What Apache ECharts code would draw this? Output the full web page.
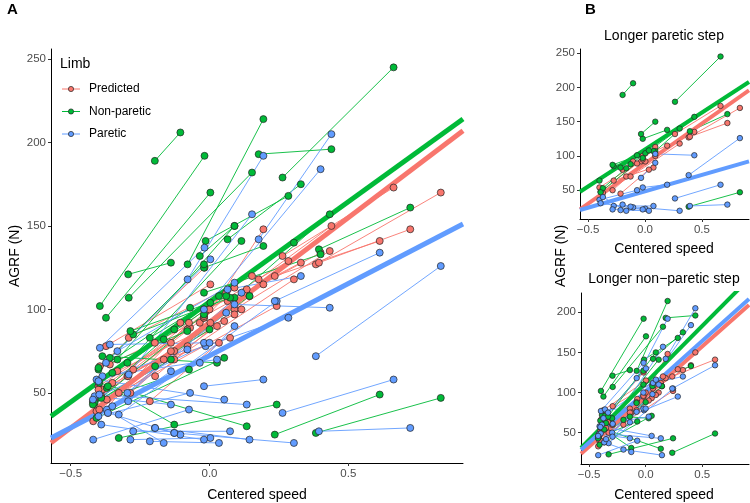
<!DOCTYPE html>
<html>
<head>
<meta charset="utf-8">
<script src="https://cdn.jsdelivr.net/npm/echarts@6/dist/echarts.min.js"></script>
<style>
  html, body { margin: 0; background: #fff; }
  #chart { width: 750px; height: 503px; }
</style>
</head>
<body>
<div id="chart"></div>
<script>
// one entry per subject: P = longer paretic step, N = longer non-paretic step
const stepGroup = ['P','P','P','P','P','P','P','P','P','P','P','P','P','P',
  'N','N','N','N','N','N','N','N','N','N','N','N','N','N','N','N','N','N','N','N','N','N','N','N'];
const speedLo = [-0.197, 0.263, 0.383, 0.394, 0.090, -0.020, -0.035, -0.275, -0.400, -0.370, -0.285, -0.215, -0.127, -0.390,
  -0.079, -0.395, -0.373, 0.177, 0.065, -0.014, -0.327, -0.419, -0.407, 0.235, -0.386, -0.359, -0.296, -0.332, -0.414, -0.397, -0.366, -0.196, -0.293, -0.291, -0.020, -0.420, -0.400, -0.350];
const speedHi = [-0.105, 0.663, 0.833, 0.723, 0.433, 0.194, 0.090, 0.074, -0.070, -0.165, 0.003, 0.034, 0.304, -0.020,
  0.194, -0.018, 0.003, 0.439, 0.329, 0.284, 0.242, -0.074, 0.053, 0.613, 0.027, -0.020, 0.115, 0.090, -0.139, 0.134, -0.127, 0.144, -0.139, 0.153, 0.400, 0.000, -0.080, 0.060];
const predLo = [80, 132, 127, 128, 100, 100, 92, 64, 54, 46, 50, 45, 70, 48,
  78, 66, 78, 118, 105, 99, 50, 33, 39, 120, 52, 67, 60, 63, 45, 40, 38, 60, 60, 83, 96, 45, 52, 56];
const predHi = [92, 173, 170, 148, 135, 115, 113, 83, 89, 70, 92, 80, 118, 95,
  148, 125, 115, 150, 128, 129, 102, 92, 93, 141, 90, 95, 100, 97, 80, 112, 75, 108, 75, 120, 134, 100, 88, 110];
const nonpLo = [189, 179, 26, 136, 107, 125, 132, 85, 64, 53, 87, 83, 88, 47,
  127, 102, 95, 193, 142, 141, 23, 44, 35, 25, 72, 71, 68, 70, 44, 56, 54, 66, 121, 107, 110, 43, 65, 62];
const nonpHi = [206, 245, 47, 161, 157, 138, 150, 107, 101, 82, 104, 108, 140, 97,
  214, 192, 170, 196, 175, 168, 43, 64, 71, 49, 68, 127, 141, 150, 70, 30, 31, 108, 128, 182, 133, 88, 87, 108];
const parLo = [29, 38, 72, 27, 103, 54, 68, 27, 36, 40, 22, 21, 26, 31,
  118, 77, 68, 142, 112, 78, 37, 22, 58, 105, 60, 79, 50, 75, 48, 49, 38, 29, 45, 61, 100, 46, 57, 42];
const parHi = [25, 58, 126, 29, 101, 58, 90, 27, 50, 20, 23, 20, 20, 22,
  192, 137, 130, 205, 120, 95, 105, 40, 46, 134, 70, 80, 110, 116, 43, 43, 26, 22, 63, 157, 184, 80, 76, 98];

// fitted lines, order: Predicted, Non-paretic, Paretic
const fitInterceptA = [92, 104.5, 72.3];
const fitSlopeA = [126, 120, 86.4];
const fitInterceptP = [88.9, 109.4, 48.4];
const fitSlopeP = [117, 108, 47.8];
const fitInterceptN = [95, 112, 101];
const fitSlopeN = [125, 142, 126.7];

const xTicks = [-0.5, 0, 0.5];
const yTicksTall = [50, 100, 150, 200, 250];
const yTicksShort = [50, 100, 150, 200];

const limbNames = ['Predicted', 'Non-paretic', 'Paretic'];
const limbColors = ['#F8766D', '#00BA38', '#619CFF'];
const limbLo = [predLo, nonpLo, parLo];
const limbHi = [predHi, nonpHi, parHi];

const X_MIN = -0.571, X_MAX = 0.913;
const txt = '#4D4D4D';
const font = 'Liberation Sans, Arial, sans-serif';

function makeX(i) {
  return {
    type: 'value', gridIndex: i, min: X_MIN, max: X_MAX,
    axisLine: { onZero: false, lineStyle: { color: '#000', width: 1 } },
    axisTick: { customValues: xTicks, length: 3, lineStyle: { color: '#333' } },
    axisLabel: {
      customValues: xTicks, color: txt, fontSize: 11.5, fontFamily: font, margin: 5,
      formatter: v => (v < 0 ? '\u2212' : '') + Math.abs(v).toFixed(1)
    },
    splitLine: { show: false }
  };
}
function makeY(i, min, max, ticks) {
  return {
    type: 'value', gridIndex: i, min: min, max: max,
    axisLine: { show: true, onZero: false, lineStyle: { color: '#000', width: 1 } },
    axisTick: { show: true, customValues: ticks, length: 3, lineStyle: { color: '#333' } },
    axisLabel: { customValues: ticks, color: txt, fontSize: 11.5, fontFamily: font, margin: 5 },
    splitLine: { show: false }
  };
}

const series = [];
function addPanel(g, keep, symSize, fitInt, fitSlope, fitWidth) {
  // thin subject lines
  for (let l = 0; l < 3; l++) {
    for (let s = 0; s < speedLo.length; s++) {
      if (!keep(s)) continue;
      series.push({
        type: 'line', xAxisIndex: g, yAxisIndex: g, silent: true, z: 2,
        symbol: 'none', lineStyle: { color: limbColors[l], width: 0.9 },
        data: [[speedLo[s], limbLo[l][s]], [speedHi[s], limbHi[l][s]]]
      });
    }
  }
  // fitted lines
  for (let l = 0; l < 3; l++) {
    series.push({
      type: 'line', xAxisIndex: g, yAxisIndex: g, silent: true, z: 3, clip: true,
      symbol: 'none', lineStyle: { color: limbColors[l], width: fitWidth },
      data: [[X_MIN, fitInt[l] + fitSlope[l] * X_MIN], [X_MAX, fitInt[l] + fitSlope[l] * X_MAX]]
    });
  }
  // points
  for (let l = 0; l < 3; l++) {
    const pts = [];
    for (let s = 0; s < speedLo.length; s++) {
      if (!keep(s)) continue;
      pts.push([speedLo[s], limbLo[l][s]], [speedHi[s], limbHi[l][s]]);
    }
    series.push({
      type: 'scatter', name: limbNames[l], xAxisIndex: g, yAxisIndex: g, silent: true, z: 4,
      symbolSize: symSize,
      itemStyle: { color: limbColors[l], borderColor: '#222', borderWidth: 0.7, opacity: 1 },
      data: pts
    });
  }
}
addPanel(0, s => true, 7, fitInterceptA, fitSlopeA, 5);
addPanel(1, s => stepGroup[s] === 'P', 5.5, fitInterceptP, fitSlopeP, 4);
addPanel(2, s => stepGroup[s] === 'N', 5.5, fitInterceptN, fitSlopeN, 4);

// legend drawn by hand: line with a dot, like ggplot's key
const legendItems = [];
limbNames.forEach((name, i) => {
  const y = 89 + i * 22.5;
  legendItems.push(
    { type: 'line', shape: { x1: 62, y1: y, x2: 80, y2: y }, style: { stroke: limbColors[i], lineWidth: 1 } },
    { type: 'circle', shape: { cx: 71, cy: y, r: 2.6 }, style: { fill: limbColors[i], stroke: '#222', lineWidth: 0.7 } },
    { type: 'text', x: 89, y: y, style: { text: name, fill: '#000', font: '12px ' + font, textVerticalAlign: 'middle' } }
  );
});

const chart = echarts.init(document.getElementById('chart'));
chart.setOption({
  animation: false,
  backgroundColor: '#fff',
  grid: [
    { left: 51, top: 49, width: 412, height: 414 },
    { left: 580, top: 49, width: 169, height: 170 },
    { left: 581, top: 293, width: 168, height: 171 }
  ],
  xAxis: [makeX(0), makeX(1), makeX(2)],
  yAxis: [makeY(0, 8, 256, yTicksTall), makeY(1, 8, 256, yTicksTall), makeY(2, 11, 224, yTicksShort)],
  series: series,
  graphic: [
    { type: 'text', x: 7, y: 2, style: { text: 'A', fill: '#000', font: 'bold 15px ' + font } },
    { type: 'text', x: 585, y: 2, style: { text: 'B', fill: '#000', font: 'bold 15px ' + font } },
    { type: 'text', x: 257, y: 495, style: { text: 'Centered speed', fill: '#000', font: '14px ' + font, textAlign: 'center', textVerticalAlign: 'middle' } },
    { type: 'text', x: 664, y: 249, style: { text: 'Centered speed', fill: '#000', font: '14px ' + font, textAlign: 'center', textVerticalAlign: 'middle' } },
    { type: 'text', x: 664, y: 495, style: { text: 'Centered speed', fill: '#000', font: '14px ' + font, textAlign: 'center', textVerticalAlign: 'middle' } },
    { type: 'text', x: 664, y: 36, style: { text: 'Longer paretic step', fill: '#000', font: '14px ' + font, textAlign: 'center', textVerticalAlign: 'middle' } },
    { type: 'text', x: 664, y: 279, style: { text: 'Longer non\u2212paretic step', fill: '#000', font: '14px ' + font, textAlign: 'center', textVerticalAlign: 'middle' } },
    { type: 'text', x: 15, y: 256, rotation: Math.PI / 2, style: { text: 'AGRF (N)', fill: '#000', font: '14px ' + font, textAlign: 'center', textVerticalAlign: 'middle' } },
    { type: 'text', x: 561, y: 256, rotation: Math.PI / 2, style: { text: 'AGRF (N)', fill: '#000', font: '14px ' + font, textAlign: 'center', textVerticalAlign: 'middle' } },
    { type: 'text', x: 60, y: 64, style: { text: 'Limb', fill: '#000', font: '14px ' + font, textVerticalAlign: 'middle' } }
  ].concat(legendItems)
});
</script>
</body>
</html>
